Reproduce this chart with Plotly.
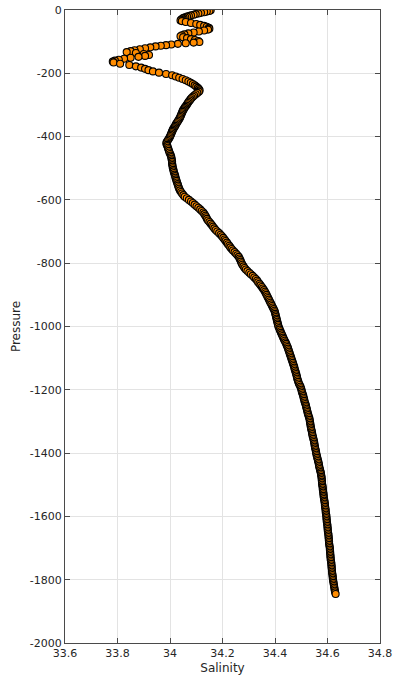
import plotly.graph_objects as go

# ---- data (pressure in dbar, positive down; salinity in PSU)
pressure_upper = [1, 3, 5, 7, 9, 11, 13, 15, 17, 19, 21, 23, 25, 27, 29, 31, 33,
                  35, 38, 41, 44, 47, 50, 53, 56, 59, 62, 65, 68, 71, 74, 77, 80, 83,
                  86, 89, 92, 95, 98, 101, 103, 105, 107, 109, 111, 113, 115, 118, 121,
                  124, 127, 130, 133, 136, 139, 142, 145, 148, 151, 154, 157, 160, 163,
                  166, 170, 174, 178, 182, 186, 190, 194, 198, 202, 206, 210, 214, 218,
                  222, 226, 230, 234, 238, 242, 246, 250, 254, 258, 262, 266, 270, 274,
                  278, 282, 286, 290, 294, 298, 302, 306, 310, 314, 318, 322, 326, 330,
                  334, 338, 342, 346, 350, 354, 358, 362, 366, 370, 374, 378, 382, 386,
                  390, 394, 398, 402, 406, 410, 414, 418, 422, 426, 430]
salinity_upper = [34.155, 34.150, 34.140, 34.130, 34.118, 34.108, 34.098, 34.090, 34.080,
                  34.072, 34.065, 34.058, 34.052, 34.048, 34.045, 34.042, 34.040,
                  34.045, 34.060, 34.080, 34.100, 34.115, 34.130, 34.140, 34.148, 34.150,
                  34.145, 34.130, 34.110, 34.090, 34.070, 34.055, 34.045, 34.040,
                  34.050, 34.065, 34.080, 34.095, 34.108, 34.112, 34.090, 34.060, 34.030,
                  34.005, 33.985, 33.965, 33.945, 33.925, 33.905, 33.885, 33.865, 33.850,
                  33.835, 33.870, 33.900, 33.920, 33.905, 33.880, 33.850, 33.825, 33.805,
                  33.790, 33.782, 33.785, 33.810, 33.845, 33.870, 33.890, 33.905, 33.918,
                  33.935, 33.958, 33.985, 34.008, 34.022, 34.035, 34.048, 34.060, 34.070,
                  34.079, 34.087, 34.094, 34.100, 34.106, 34.110, 34.113, 34.110, 34.104,
                  34.098, 34.092, 34.087, 34.082, 34.078, 34.075, 34.071, 34.068, 34.065,
                  34.062, 34.058, 34.055, 34.052, 34.049, 34.047, 34.045, 34.043, 34.041,
                  34.039, 34.037, 34.034, 34.031, 34.028, 34.025, 34.022, 34.020, 34.017,
                  34.014, 34.011, 34.009, 34.007, 34.005, 34.003, 34.001, 33.999, 33.996,
                  33.993, 33.990, 33.987, 33.986, 33.988, 33.990]

pressure_deep = [
    435, 440, 445, 450, 455, 460, 465, 470, 475, 480, 485, 490, 495, 500,
    505, 510, 515, 520, 525, 530, 535, 540, 545, 550, 555, 560, 565, 570,
    575, 580, 585, 590, 595, 600, 605, 610, 615, 620, 625, 630, 635, 640,
    645, 650, 655, 660, 665, 670, 675, 680, 685, 690, 695, 700, 705, 710,
    715, 720, 725, 730, 735, 740, 745, 750, 755, 760, 765, 770, 775, 780,
    785, 790, 795, 800, 805, 810, 815, 820, 825, 830, 835, 840, 845, 850,
    855, 860, 865, 870, 875, 880, 885, 890, 895, 900, 905, 910, 915, 920,
    925, 930, 935, 940, 945, 950, 955, 960, 965, 970, 975, 980, 985, 990,
    995, 1000, 1005, 1010, 1015, 1020, 1025, 1030, 1035, 1040, 1045, 1050,
    1055, 1060, 1065, 1070, 1075, 1080, 1085, 1090, 1095, 1100, 1105, 1110,
    1115, 1120, 1125, 1130, 1135, 1140, 1145, 1150, 1155, 1160, 1165, 1170,
    1175, 1180, 1185, 1190, 1195, 1200, 1205, 1210, 1215, 1220, 1225, 1230,
    1235, 1240, 1245, 1250, 1255, 1260, 1265, 1270, 1275, 1280, 1285, 1290,
    1295, 1300, 1305, 1310, 1315, 1320, 1325, 1330, 1335, 1340, 1345, 1350,
    1355, 1360, 1365, 1370, 1375, 1380, 1385, 1390, 1395, 1400, 1405, 1410,
    1415, 1420, 1425, 1430, 1435, 1440, 1445, 1450, 1455, 1460, 1465, 1470,
    1475, 1480, 1485, 1490, 1495, 1500, 1505, 1510, 1515, 1520, 1525, 1530,
    1535, 1540, 1545, 1550, 1555, 1560, 1565, 1570, 1575, 1580, 1585, 1590,
    1595, 1600, 1605, 1610, 1615, 1620, 1625, 1630, 1635, 1640, 1645, 1650,
    1655, 1660, 1665, 1670, 1675, 1680, 1685, 1690, 1695, 1700, 1705, 1710,
    1715, 1720, 1725, 1730, 1735, 1740, 1745, 1750, 1755, 1760, 1765, 1770,
    1775, 1780, 1785, 1790, 1795, 1800, 1805, 1810, 1815, 1820, 1825, 1830,
    1835, 1840, 1845]
salinity_deep = [
    33.992, 33.994, 33.996, 33.998, 34.001, 34.003, 34.005, 34.006, 34.007, 34.008,
    34.008, 34.009, 34.010, 34.011, 34.013, 34.014, 34.016, 34.018, 34.020, 34.021,
    34.023, 34.025, 34.027, 34.029, 34.031, 34.033, 34.035, 34.038, 34.042, 34.046,
    34.051, 34.056, 34.064, 34.072, 34.080, 34.087, 34.094, 34.101, 34.108, 34.115,
    34.121, 34.127, 34.131, 34.135, 34.138, 34.141, 34.145, 34.150, 34.155, 34.160,
    34.164, 34.169, 34.174, 34.180, 34.187, 34.193, 34.198, 34.203, 34.208, 34.212,
    34.217, 34.221, 34.226, 34.230, 34.235, 34.240, 34.246, 34.252, 34.257, 34.262,
    34.265, 34.268, 34.270, 34.273, 34.276, 34.280, 34.284, 34.289, 34.295, 34.302,
    34.308, 34.315, 34.321, 34.327, 34.332, 34.336, 34.341, 34.345, 34.350, 34.354,
    34.358, 34.362, 34.365, 34.368, 34.371, 34.374, 34.377, 34.380, 34.383, 34.386,
    34.389, 34.392, 34.395, 34.398, 34.400, 34.401, 34.403, 34.404, 34.406, 34.407,
    34.409, 34.410, 34.412, 34.413, 34.416, 34.418, 34.421, 34.423, 34.426, 34.429,
    34.431, 34.434, 34.437, 34.440, 34.443, 34.445, 34.448, 34.450, 34.452, 34.454,
    34.456, 34.458, 34.460, 34.462, 34.464, 34.466, 34.468, 34.470, 34.472, 34.474,
    34.475, 34.477, 34.479, 34.481, 34.482, 34.484, 34.485, 34.487, 34.489, 34.491,
    34.494, 34.497, 34.499, 34.501, 34.502, 34.504, 34.506, 34.508, 34.509, 34.511,
    34.512, 34.514, 34.516, 34.518, 34.519, 34.521, 34.522, 34.524, 34.525, 34.527,
    34.529, 34.531, 34.532, 34.533, 34.534, 34.535, 34.536, 34.537, 34.538, 34.540,
    34.541, 34.542, 34.543, 34.545, 34.546, 34.548, 34.549, 34.550, 34.551, 34.552,
    34.553, 34.555, 34.556, 34.557, 34.558, 34.560, 34.561, 34.563, 34.564, 34.566,
    34.567, 34.568, 34.569, 34.571, 34.572, 34.574, 34.575, 34.576, 34.577, 34.578,
    34.578, 34.579, 34.579, 34.580, 34.581, 34.582, 34.582, 34.583, 34.584, 34.585,
    34.585, 34.586, 34.587, 34.588, 34.589, 34.590, 34.590, 34.591, 34.592, 34.593,
    34.593, 34.594, 34.595, 34.596, 34.596, 34.597, 34.597, 34.598, 34.599, 34.600,
    34.600, 34.601, 34.601, 34.602, 34.603, 34.604, 34.604, 34.605, 34.605, 34.606,
    34.606, 34.607, 34.608, 34.609, 34.609, 34.610, 34.610, 34.611, 34.611, 34.612,
    34.612, 34.613, 34.614, 34.615, 34.615, 34.616, 34.616, 34.617, 34.617, 34.618,
    34.619, 34.620, 34.620, 34.621, 34.622, 34.623, 34.624, 34.625, 34.626, 34.627,
    34.628, 34.629, 34.631]

x_tick_values = [33.6, 33.8, 34.0, 34.2, 34.4, 34.6, 34.8]
x_tick_labels = ["33.6", "33.8", "34", "34.2", "34.4", "34.6", "34.8"]
y_tick_values = [0, -200, -400, -600, -800, -1000, -1200, -1400, -1600, -1800, -2000]
y_tick_labels = ["0", "-200", "-400", "-600", "-800", "-1000", "-1200", "-1400",
                 "-1600", "-1800", "-2000"]

pressure = pressure_upper + pressure_deep
salinity = salinity_upper + salinity_deep
pressure_axis = [-p for p in pressure]

AXIS_COLOR = "#4a4a4a"
GRID_COLOR = "#e3e3e3"
TEXT_COLOR = "#262626"

fig = go.Figure()
fig.add_trace(go.Scatter(
    x=salinity, y=pressure_axis, mode="markers",
    marker=dict(symbol="circle", size=7, color="#ff8c00",
                line=dict(color="#000000", width=1.1)),
    showlegend=False, hoverinfo="skip",
))

axis_common = dict(
    showgrid=True, gridcolor=GRID_COLOR, gridwidth=1,
    showline=True, linecolor=AXIS_COLOR, linewidth=1, mirror="ticks",
    ticks="inside", ticklen=5, tickwidth=1, tickcolor=AXIS_COLOR,
    zeroline=False, tickfont=dict(size=11, color=TEXT_COLOR),
    ticklabeloverflow="allow",
)

fig.update_layout(
    width=396, height=686,
    margin=dict(l=65, r=16, t=10, b=43, autoexpand=False),
    paper_bgcolor="white", plot_bgcolor="white",
    font=dict(family="DejaVu Sans", size=11, color=TEXT_COLOR),
    xaxis=dict(range=[33.6, 34.8], tickvals=x_tick_values, ticktext=x_tick_labels,
               title=dict(text="Salinity", font=dict(size=12, color=TEXT_COLOR), standoff=4),
               **axis_common),
    yaxis=dict(range=[-2000, 0], tickvals=y_tick_values, ticktext=y_tick_labels,
               title=dict(text="Pressure", font=dict(size=12, color=TEXT_COLOR), standoff=6),
               **axis_common),
)

# remove the browser's default 8px page margin so the figure fills the window exactly
page_reset = "document.body.style.margin='0'; document.body.style.overflow='hidden';"
fig.write_html("out.html", post_script=page_reset,
               config={"displayModeBar": False, "staticPlot": True})
